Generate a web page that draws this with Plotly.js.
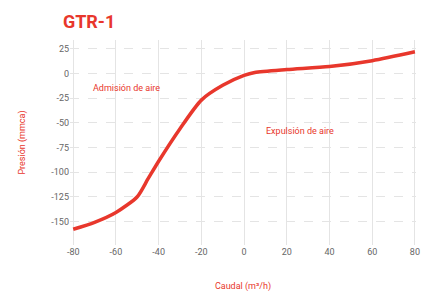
<!DOCTYPE html>
<html><head><meta charset="utf-8">
<script src="https://cdn.plot.ly/plotly-3.0.1.min.js"></script>
<style>html,body{margin:0;padding:0;background:#fff}#c{width:425px;height:294px}</style>
</head><body><div id="c"></div>
<script>
const caudal = [-80, -70, -60, -50, -45, -40, -30, -20, -10, 0, 5, 20, 40, 60, 80];
const presion = [-158, -151, -141, -125, -107, -89, -56, -27, -12, -2, 1, 4, 7, 13, 22];
const xTicks = [-80, -60, -40, -20, 0, 20, 40, 60, 80];
const yTicks = [25, 0, -25, -50, -75, -100, -125, -150];
const red = '#e8372c';
Plotly.newPlot('c', [{
  x: caudal, y: presion, type: 'scatter', mode: 'lines',
  line: {color: red, width: 3.5, shape: 'spline', smoothing: 0.7}, hoverinfo: 'none'
}], {
  width: 425, height: 294,
  margin: {l: 70, r: 9, t: 40, b: 49},
  paper_bgcolor: '#fff', plot_bgcolor: '#fff',
  showlegend: false,
  font: {family: 'Roboto, sans-serif'},
  title: {text: '<b>GTR-1</b>', x: 0.148, xanchor: 'left', y: 0.925, yanchor: 'middle',
          font: {size: 18, color: red, family: 'Roboto, sans-serif'}},
  xaxis: {range: [-81.5, 80.5], tickvals: xTicks, ticktext: xTicks.map(String),
          showgrid: true, gridcolor: '#e4e4e4', gridwidth: 1, zeroline: false,
          showline: false, ticks: '', tickfont: {size: 9, color: '#666'},
          title: {text: 'Caudal (m³/h)', font: {size: 9, color: red}, standoff: 26}},
  yaxis: {range: [-174, 34], tickvals: yTicks, ticktext: yTicks.map(String),
          showgrid: true, gridcolor: '#e4e4e4', griddash: 'dash', gridwidth: 1,
          zeroline: false,
          showline: false, ticks: '', tickfont: {size: 9, color: '#666'},
          title: {text: 'Presión (mmca)', font: {size: 9, color: red}, standoff: 24}},
  shapes: [
    {type: 'line', xref: 'paper', x0: 0, x1: 1, yref: 'y', y0: 0, y1: 0,
     line: {color: '#f2aaa5', width: 1, dash: 'dash'}, layer: 'below'}
  ],
  annotations: [
    {x: -55, y: -15, text: 'Admisión de aire', showarrow: false, font: {size: 9, color: red}},
    {x: 26, y: -58, text: 'Expulsión de aire', showarrow: false, font: {size: 9, color: red}}
  ]
}, {staticPlot: true});
</script></body></html>
